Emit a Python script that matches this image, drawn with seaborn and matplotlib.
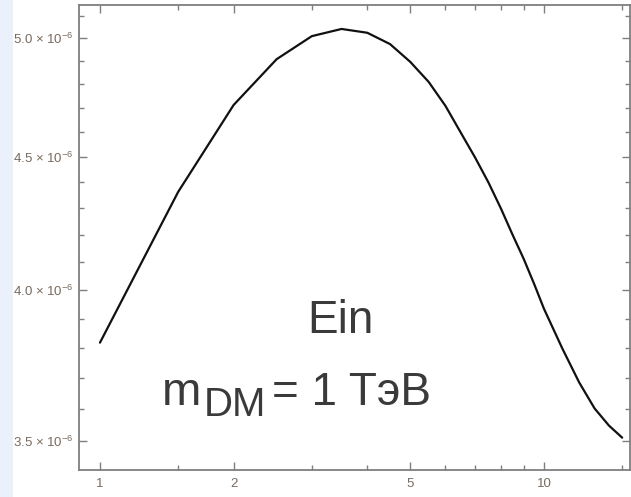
import numpy as np
import pandas as pd
import matplotlib
matplotlib.use("Agg")
import matplotlib.pyplot as plt
import seaborn as sns
from matplotlib.ticker import FixedLocator, FixedFormatter, NullFormatter
from matplotlib.patches import Rectangle

# ---- data ----
mass = [1, 1.5, 2, 2.5, 3, 3.5, 4, 4.5, 5, 5.5, 6, 6.5, 7, 7.5, 8, 8.5, 9, 9.5,
        10, 11, 12, 13, 14, 15]
flux = [3.818, 4.363, 4.712, 4.907, 5.008, 5.040, 5.023, 4.973, 4.895, 4.809,
        4.708, 4.597, 4.497, 4.399, 4.299, 4.200, 4.112, 4.022, 3.934, 3.798,
        3.686, 3.602, 3.548, 3.510]  # x 1e-6
flux_scale = 1e-6

x_major = [1, 2, 5, 10]
x_major_labels = ["1", "2", "5", "10"]
x_minor = [1.5, 3, 4, 6, 7, 8, 9, 15]
y_major = [3.5, 4.0, 4.5, 5.0]
y_major_labels = ["3.5", "4.0", "4.5", "5.0"]
y_minor = [3.6, 3.7, 3.8, 3.9, 4.1, 4.2, 4.3, 4.4, 4.6, 4.7, 4.8, 4.9, 5.1]
text_line1 = "Ein"
text_m = "m"
text_sub = "DM"
text_rest = "= 1 TэВ"

df = pd.DataFrame({"mass": mass, "flux": np.array(flux) * flux_scale})

sns.set_style("ticks")
plt.rcParams["font.family"] = ["Liberation Sans", "DejaVu Sans"]
plt.rcParams["mathtext.fontset"] = "custom"
plt.rcParams["mathtext.rm"] = "Liberation Sans"
plt.rcParams["mathtext.it"] = "Liberation Sans"

W, H = 631, 497
fig = plt.figure(figsize=(W / 100, H / 100), dpi=100)
fig.patch.set_facecolor("white")
fig.patches.append(Rectangle((0, 0), 13 / W, 1, transform=fig.transFigure,
                             facecolor="#eaf1fc", edgecolor="none", zorder=-5))

ax = fig.add_axes([79 / W, 1 - 470 / H, (630 - 79) / W, (470 - 5) / H])
sns.lineplot(data=df, x="mass", y="flux", ax=ax, color="#111111", lw=1.6,
             sort=False)
ax.set_xscale("log")
ax.set_yscale("log")
ax.set_xlim(0.897, 15.62)
ax.set_ylim(3.411e-6, 5.148e-6)

ax.xaxis.set_major_locator(FixedLocator(x_major))
ax.xaxis.set_major_formatter(FixedFormatter(x_major_labels))
ax.xaxis.set_minor_locator(FixedLocator(x_minor))
ax.xaxis.set_minor_formatter(NullFormatter())

ymaj = [v * flux_scale for v in y_major]
ax.yaxis.set_major_locator(FixedLocator(ymaj))
ax.yaxis.set_major_formatter(FixedFormatter(
    [f"{s} × 10$^{{\\mathregular{{-6}}}}$" for s in y_major_labels]))
ax.yaxis.set_minor_locator(FixedLocator([v * flux_scale for v in y_minor]))
ax.yaxis.set_minor_formatter(NullFormatter())

ax.set_xlabel("")
ax.set_ylabel("")
spine_col = "#7f7f7f"
for s in ax.spines.values():
    s.set_visible(True)
    s.set_color(spine_col)
    s.set_linewidth(1.3)
ax.tick_params(which="both", direction="in", top=True, right=True,
               color=spine_col, width=1.0)
ax.tick_params(which="major", length=6)
ax.tick_params(which="minor", length=3.5)
ax.tick_params(axis="y", which="major", labelsize=9.5, labelcolor="#786a5e", pad=4)
ax.tick_params(axis="x", which="major", labelsize=9.5, labelcolor="#786a5e", pad=6)

# annotation text, placed in figure pixel coordinates
tc = "#3a3a3a"
fig.text(340 / W, 1 - 321 / H, text_line1, fontsize=33, color=tc,
         ha="center", va="center")
fig.text(162 / W, 1 - 405 / H, text_m, fontsize=34, color=tc,
         ha="left", va="baseline")
fig.text(204 / W, 1 - 416 / H, text_sub, fontsize=29, color=tc,
         ha="left", va="baseline")
fig.text(272 / W, 1 - 405 / H, text_rest, fontsize=33, color=tc,
         ha="left", va="baseline")

fig.savefig("out.png", dpi=100)
